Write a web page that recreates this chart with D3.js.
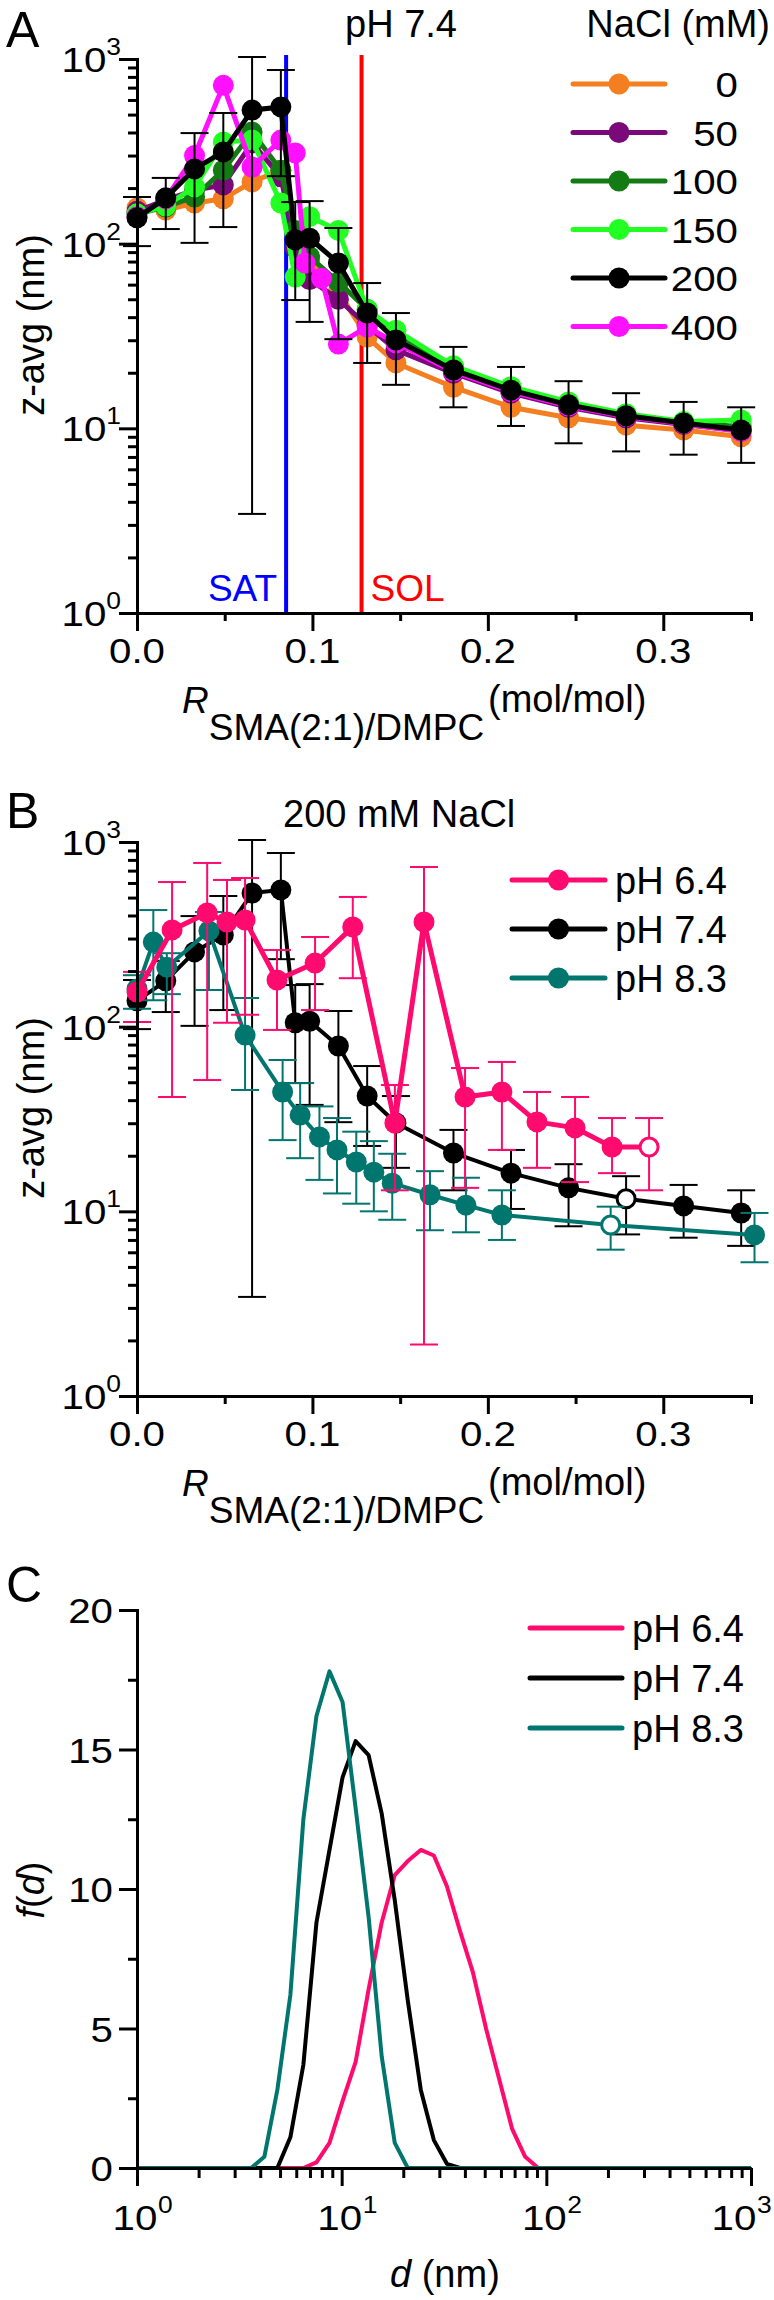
<!DOCTYPE html>
<html><head><meta charset="utf-8">
<script src="https://cdn.jsdelivr.net/npm/d3@7"></script>
<style>
body{margin:0;background:#fff;}
text{font-family:"Liberation Sans",Arial,Helvetica,sans-serif;fill:#000;}
</style></head><body>
<svg id="c" width="774" height="2300" xmlns="http://www.w3.org/2000/svg"></svg>
<script>
// ================= DATA =================
// shared axis tick values
const rTicks = [0, 0.1, 0.2, 0.3];
const rMinorTicks = [0.05, 0.15, 0.25, 0.35];
const zDecades = [1, 10, 100, 1000];
const zDecadeExp = ["0", "1", "2", "3"];
const fTicks = [0, 5, 10, 15, 20];
const fMinorTicks = [2.5, 7.5, 12.5, 17.5];
const dDecades = [1, 10, 100, 1000];
const dDecadeExp = ["0", "1", "2", "3"];

// Panel A: z-avg vs R at pH 7.4 for different NaCl (mM)
const naclLabels = ["0", "50", "100", "150", "200", "400"];
const rA = [0, 0.0164, 0.0328, 0.0492, 0.0656, 0.082, 0.0902, 0.0984, 0.1148, 0.1312, 0.1476, 0.1804, 0.2132, 0.246, 0.2788, 0.3116, 0.3444];
const rA400 = [0, 0.0164, 0.0328, 0.0492, 0.0656, 0.082, 0.0902, 0.0958, 0.1052, 0.1148, 0.1312, 0.1476, 0.1804, 0.2132, 0.246, 0.2788, 0.3116, 0.3444];
const zNaCl0   = [156, 152, 166, 175, 216, 250, 110, 80, 55, 31.2, 22.6, 16.7, 13.0, 11.4, 10.4, 9.8, 9.0];
const zNaCl50  = [150, 172, 195, 208, 351, 230, 95, 64, 50, 36, 26.6, 19.9, 15.5, 13.0, 11.4, 10.5, 9.7];
const zNaCl100 = [145, 158, 179, 250, 402, 250, 118, 85, 62, 44, 31.5, 21.5, 16.6, 13.7, 11.9, 10.8, 10.2];
const zNaCl150 = [145, 160, 203, 355, 364, 166, 66, 140, 118, 44, 34, 21.8, 16.8, 13.9, 12.0, 10.9, 11.1];
const zNaCl200 = [138, 177, 254, 314, 529, 550, 105, 107, 78.6, 42.1, 30.1, 20.7, 16.1, 13.4, 11.7, 10.7, 9.8];
const zNaCl200Lo = [97, 120, 101, 123, 3.44, 232, 49.5, 37.7, 30.4, 22.6, 17.2, 13.0, 10.3, 8.3, 7.5, 7.2, 6.5];
const zNaCl200Hi = [179, 227, 397, 510, 1025, 872, 168, 170, 121.6, 61.2, 42.1, 27.6, 21.5, 18.0, 15.5, 13.9, 13.0];
const zNaCl400 = [140, 175, 300, 720, 260, 364, 310, 78.6, 65, 28.6, 35.4, 29, 20.3, 15.8, 13.2, 11.6, 10.6, 9.6];
const satR = 0.085;
const solR = 0.128;

// Panel B: 200 mM NaCl, different pH
const phLabels = ["pH 6.4", "pH 7.4", "pH 8.3"];
const rPH64 = [0, 0.020, 0.040, 0.0513, 0.0616, 0.0798, 0.1015, 0.123, 0.147, 0.1636, 0.187, 0.208, 0.228, 0.2497, 0.2708, 0.2919];
const zPH64 = [154, 334, 413, 369, 378, 179, 221, 347, 30.1, 369, 41.6, 44.3, 30.5, 28.3, 22.3, 22.3];
const zPH64Lo = [106, 41.6, 51.4, 105, 116, 96, 123, 183, 13.0, 1.9, 13.4, 21.5, 17.2, 14.4, 16.1, 13.0];
const zPH64Hi = [198, 607, 770, 623, 638, 260, 306, 504, 48.3, 732, 59.7, 64.4, 44.3, 41.6, 32.0, 32.0];
const openPH64 = [15];
const openPH74 = [14];
const rPH83 = [0, 0.0093, 0.017, 0.041, 0.0616, 0.083, 0.093, 0.104, 0.114, 0.125, 0.135, 0.1455, 0.167, 0.1875, 0.208, 0.270, 0.352];
const zPH83 = [160, 287, 210, 330, 90, 44.3, 33.2, 25.3, 21.5, 18.5, 16.3, 14.2, 12.3, 10.8, 9.55, 8.43, 7.45];
const zPH83Lo = [125, 139, 150, 158, 45.4, 24.3, 19.4, 14.8, 12.5, 11.0, 10.0, 9.0, 7.9, 7.7, 7.0, 6.2, 5.3];
const zPH83Hi = [190, 428, 250, 418, 143, 66, 49.5, 37, 32, 27, 24, 20.5, 16.5, 15.2, 13.0, 10.6, 9.8];
const openPH83 = [15];

// Panel C: size distributions f(d)
const dPH64 = [1, 6.50, 7.53, 8.72, 10.10, 11.70, 13.54, 15.69, 18.17, 21.04, 24.36, 28.21, 32.67, 37.84, 43.82, 50.75, 58.77, 68.06, 78.82, 91.28, 1000];
const fPH64 = [0, 0, 0.2, 0.9, 2.4, 3.8, 6.4, 8.8, 10.5, 11.0, 11.4, 11.2, 10.1, 8.5, 7.0, 5.0, 3.2, 1.4, 0.4, 0, 0];
const dPH74 = [1, 4.85, 5.615, 6.50, 7.53, 8.72, 10.10, 11.70, 13.54, 15.69, 18.17, 21.04, 24.36, 28.21, 32.67, 37.84, 1000];
const fPH74 = [0, 0, 1.1, 3.7, 8.8, 11.4, 14.0, 15.3, 14.8, 12.7, 9.6, 6.0, 2.8, 1.0, 0.15, 0, 0];
const dPH83 = [1, 3.615, 4.19, 4.85, 5.615, 6.50, 7.53, 8.72, 10.10, 11.70, 13.54, 15.69, 18.17, 21.04, 1000];
const fPH83 = [0, 0, 0.4, 2.8, 6.2, 12.5, 16.2, 17.8, 16.7, 12.9, 9.0, 4.0, 0.9, 0, 0];

// ================= STYLE =================
const naclColors = ["#f47f20", "#7a0a7a", "#147a14", "#22ff22", "#000000", "#ff10ff"];
const phColors = ["#ff0a6e", "#000000", "#00766f"];
const NUM_SX = 1.15;

// ================= DRAW =================
const svg = d3.select("#c");
const L = 137, R = 751;
const A = {top: 59, bottom: 613};
const B = {top: 842, bottom: 1396};
const C = {top: 1610, bottom: 2168};

const xR = d3.scaleLinear().domain([0, 0.35]).range([L, R]);
const yA = d3.scaleLog().domain([1, 1000]).range([A.bottom, A.top]);
const yB = d3.scaleLog().domain([1, 1000]).range([B.bottom, B.top]);
const xC = d3.scaleLog().domain([1, 1000]).range([L, R]);
const yC = d3.scaleLinear().domain([0, 20]).range([C.bottom, C.top]);

function txt(g, x, y, s, size, opts = {}) {
  const t = g.append("text")
    .attr("transform", `translate(${x},${y}) scale(${opts.sx || 1},1)`)
    .attr("text-anchor", opts.anchor || "start")
    .style("font-size", size + "px");
  if (opts.fill) t.style("fill", opts.fill);
  if (opts.italic) t.style("font-style", "italic");
  if (s !== null) t.text(s);
  return t;
}
function styleAxis(g) {
  g.selectAll("path,line").attr("stroke", "#000").attr("stroke-width", 3);
  g.select(".domain").attr("stroke-linecap", "square");
}
function minorLog(decs) {
  const out = [];
  decs.forEach(d => { for (let k = 2; k <= 9; k++) out.push(d * k); });
  return out;
}

function logYAxis(y) {
  const g = svg.append("g");
  g.append("g").attr("transform", `translate(${L},0)`)
    .call(d3.axisLeft(y).tickValues(minorLog([1, 10, 100])).tickSize(9).tickSizeOuter(0).tickFormat(""));
  g.append("g").attr("transform", `translate(${L},0)`)
    .call(d3.axisLeft(y).tickValues(zDecades).tickSize(18).tickSizeOuter(0).tickFormat(""));
  styleAxis(g);
  zDecades.forEach((v, i) => {
    const t = txt(g, 121, y(v) + 13, null, 35, {anchor: "end", sx: NUM_SX});
    t.append("tspan").text("10");
    t.append("tspan").attr("dy", -17).style("font-size", "23px").text(zDecadeExp[i]);
  });
}
function rXAxis(bottom) {
  const g = svg.append("g");
  g.append("g").attr("transform", `translate(0,${bottom})`)
    .call(d3.axisBottom(xR).tickValues(rMinorTicks).tickSize(8).tickSizeOuter(0).tickFormat(""));
  g.append("g").attr("transform", `translate(0,${bottom})`)
    .call(d3.axisBottom(xR).tickValues(rTicks).tickSize(18).tickSizeOuter(0).tickFormat(""));
  styleAxis(g);
  rTicks.forEach(v => txt(g, xR(v), bottom + 50, d3.format(".1f")(v), 35, {anchor: "middle", sx: NUM_SX}));
  const t = txt(g, 182, bottom + 100, null, 37);
  t.append("tspan").style("font-style", "italic").text("R");
  t.append("tspan").attr("dy", 27).text("SMA(2:1)/DMPC");
  txt(g, 488, bottom + 99, "(mol/mol)", 38);
}
function yTitle(cy, parts) {
  const t = svg.append("text")
    .attr("transform", `translate(44,${cy}) rotate(-90)`)
    .attr("text-anchor", "middle").style("font-size", "38px");
  parts.forEach(p => { const s = t.append("tspan").text(p[0]); if (p[1]) s.style("font-style", "italic"); });
}

function errorBars(g, xs, lo, hi, x, y, color, sw) {
  const eg = g.append("g").attr("stroke", color).attr("stroke-width", sw);
  xs.forEach((v, i) => {
    const cx = x(v), y1 = y(lo[i]), y2 = y(hi[i]);
    eg.append("line").attr("x1", cx).attr("x2", cx).attr("y1", y1).attr("y2", y2);
    eg.append("line").attr("x1", cx - 14).attr("x2", cx + 14).attr("y1", y1).attr("y2", y1);
    eg.append("line").attr("x1", cx - 14).attr("x2", cx + 14).attr("y1", y2).attr("y2", y2);
  });
}
function series(g, xs, ys, x, y, color, lw, r, open = []) {
  const pts = xs.map((v, i) => [v, ys[i], i]);
  g.append("path").datum(pts)
    .attr("d", d3.line().x(d => x(d[0])).y(d => y(d[1])))
    .attr("fill", "none").attr("stroke", color).attr("stroke-width", lw).attr("stroke-linejoin", "round");
  if (r > 0) {
    g.selectAll(null).data(pts).join("circle")
      .attr("cx", d => x(d[0])).attr("cy", d => y(d[1]))
      .attr("r", d => open.includes(d[2]) ? r - 1.5 : r)
      .attr("fill", d => open.includes(d[2]) ? "#fff" : color)
      .attr("stroke", color).attr("stroke-width", d => open.includes(d[2]) ? 3 : 0);
  }
}
function legendRow(g, x1, x2, y, color, lw, r) {
  g.append("line").attr("x1", x1).attr("x2", x2).attr("y1", y).attr("y2", y)
    .attr("stroke", color).attr("stroke-width", lw).attr("stroke-linecap", "round");
  if (r > 0) g.append("circle").attr("cx", (x1 + x2) / 2).attr("cy", y).attr("r", r).attr("fill", color);
}

// ---------- Panel A ----------
const gA = svg.append("g");
// SAT / SOL lines
gA.append("line").attr("x1", xR(satR)).attr("x2", xR(satR)).attr("y1", A.top - 4).attr("y2", A.bottom)
  .attr("stroke", "#0000ff").attr("stroke-width", 4);
gA.append("line").attr("x1", xR(solR)).attr("x2", xR(solR)).attr("y1", A.top - 4).attr("y2", A.bottom)
  .attr("stroke", "#ff0000").attr("stroke-width", 4);
txt(gA, xR(satR) - 9, 601, "SAT", 37, {anchor: "end", fill: "#0000ff"});
txt(gA, xR(solR) + 9, 601, "SOL", 37, {fill: "#ff0000"});

const naclX = [rA, rA, rA, rA, rA, rA400];
const naclY = [zNaCl0, zNaCl50, zNaCl100, zNaCl150, zNaCl200, zNaCl400];
const drawOrderA = [0, 1, 2, 3, 5, 4];
drawOrderA.forEach(k => {
  const g = gA.append("g");
  if (k === 4) errorBars(g, rA, zNaCl200Lo, zNaCl200Hi, xR, yA, "#000", 2);
  series(g, naclX[k], naclY[k], xR, yA, naclColors[k], 5, 10.5);
});
logYAxis(yA);
rXAxis(A.bottom);
yTitle(325, [["z-avg (nm)", false]]);
txt(svg, 6, 47, "A", 50);
txt(svg, 345, 37, "pH 7.4", 38);
txt(svg, 770, 37, "NaCl (mM)", 38, {anchor: "end"});
naclLabels.forEach((lab, i) => {
  const yy = 84 + i * 48.5;
  legendRow(svg, 573, 665, yy, naclColors[i], 5, 10.5);
  txt(svg, 738, yy + 13, lab, 35, {anchor: "end", sx: NUM_SX});
});

// ---------- Panel B ----------
const gB = svg.append("g");
const gBb = gB.append("g");
errorBars(gBb, rA, zNaCl200Lo, zNaCl200Hi, xR, yB, phColors[1], 2);
series(gBb, rA, zNaCl200, xR, yB, phColors[1], 4, 10.5, openPH74);
const gBt = gB.append("g");
errorBars(gBt, rPH83, zPH83Lo, zPH83Hi, xR, yB, phColors[2], 2);
series(gBt, rPH83, zPH83, xR, yB, phColors[2], 4, 10.5, openPH83);
const gBp = gB.append("g");
errorBars(gBp, rPH64, zPH64Lo, zPH64Hi, xR, yB, phColors[0], 2);
series(gBp, rPH64, zPH64, xR, yB, phColors[0], 5, 10.5, openPH64);
logYAxis(yB);
rXAxis(B.bottom);
yTitle(1108, [["z-avg (nm)", false]]);
txt(svg, 6, 828, "B", 50);
txt(svg, 283, 827, "200 mM NaCl", 38);
phLabels.forEach((lab, i) => {
  const yy = 880 + i * 49;
  legendRow(svg, 512, 605, yy, phColors[i], 5, 10.5);
  txt(svg, 615, yy + 14, lab, 38);
});

// ---------- Panel C ----------
const gC = svg.append("g");
series(gC, dPH64, fPH64, xC, yC, phColors[0], 4, 0);
series(gC, dPH74, fPH74, xC, yC, phColors[1], 4, 0);
series(gC, dPH83, fPH83, xC, yC, phColors[2], 4, 0);
{
  const g = svg.append("g");
  g.append("g").attr("transform", `translate(${L},0)`)
    .call(d3.axisLeft(yC).tickValues(fMinorTicks).tickSize(9).tickSizeOuter(0).tickFormat(""));
  g.append("g").attr("transform", `translate(${L},0)`)
    .call(d3.axisLeft(yC).tickValues(fTicks).tickSize(18).tickSizeOuter(0).tickFormat(""));
  g.append("g").attr("transform", `translate(0,${C.bottom})`)
    .call(d3.axisBottom(xC).tickValues(minorLog([1, 10, 100])).tickSize(10).tickSizeOuter(0).tickFormat(""));
  g.append("g").attr("transform", `translate(0,${C.bottom})`)
    .call(d3.axisBottom(xC).tickValues(dDecades).tickSize(18).tickSizeOuter(0).tickFormat(""));
  styleAxis(g);
  fTicks.forEach(v => txt(g, 113, yC(v) + 13, String(v), 35, {anchor: "end", sx: NUM_SX}));
  dDecades.forEach((v, i) => {
    const cx = Math.min(xC(v) - 2, 734);
    txt(g, cx, 2230, "10", 35, {anchor: "middle", sx: NUM_SX});
    txt(g, cx + 23, 2213, dDecadeExp[i], 23, {sx: NUM_SX});
  });
  const t = txt(g, 390, 2287, null, 38);
  t.append("tspan").style("font-style", "italic").text("d");
  t.append("tspan").text(" (nm)");
}
yTitle(1890, [["f", true], ["(", false], ["d", true], [")", false]]);
txt(svg, 6, 1602, "C", 50);
phLabels.forEach((lab, i) => {
  const yy = 1628 + i * 50;
  legendRow(svg, 530, 622, yy, phColors[i], 5, 0);
  txt(svg, 632, yy + 14, lab, 38);
});
</script>
</body></html>
